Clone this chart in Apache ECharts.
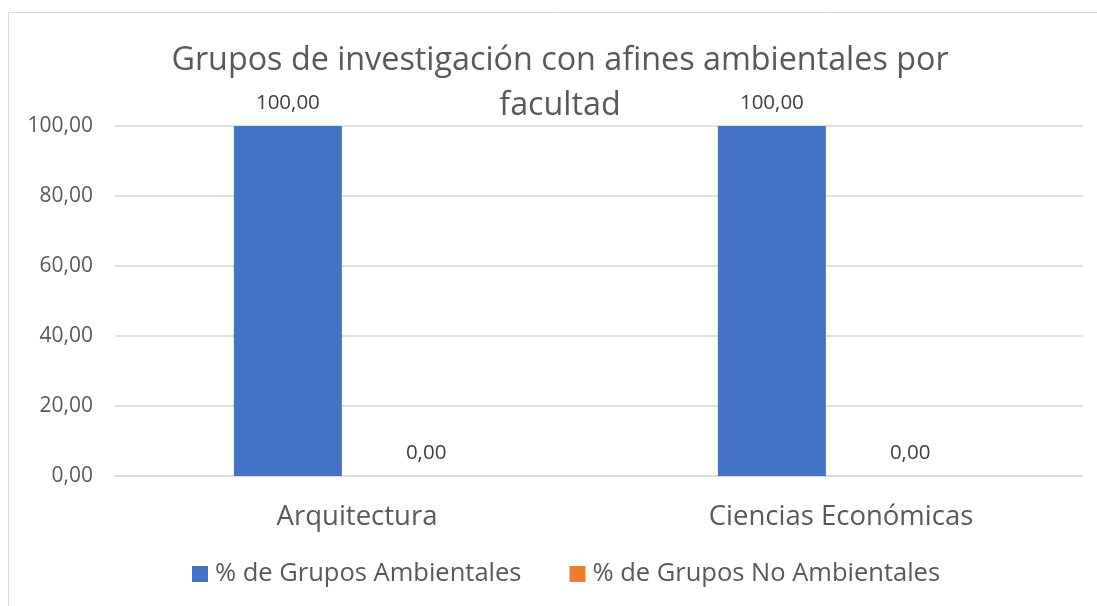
<!DOCTYPE html>
<html><head><meta charset="utf-8">
<script src="https://cdn.jsdelivr.net/npm/echarts@6/dist/echarts.min.js"></script>
<style>html,body{margin:0;padding:0;background:#fff}#c{width:1097px;height:606px}</style>
</head><body><div id="c"></div>
<script>
const titleText = 'Grupos de investigación con afines ambientales por\nfacultad';
const categories = ['Arquitectura', 'Ciencias Económicas'];
const seriesNames = ['% de Grupos Ambientales', '% de Grupos No Ambientales'];
const ambientales = [100, 100];
const noAmbientales = [0, 0];
const yTicks = [0, 20, 40, 60, 80, 100];
const colors = ['#4472C4', '#ED7D31'];
const FONT = 'Open Sans';

const chart = echarts.init(document.getElementById('c'));
const fmt = v => Number(v).toFixed(2).replace('.', ',');
const labelOpt = {show: true, position: 'top', distance: 12, color: '#404040', fontFamily: FONT, fontSize: 20.5, formatter: p => fmt(p.value)};
chart.setOption({
  animation: false,
  backgroundColor: '#fff',
  graphic: [{type: 'rect', shape: {x: 8.5, y: 12.5, width: 1200, height: 700}, style: {fill: 'none', stroke: '#D9D9D9', lineWidth: 1}, silent: true, z: -10}],
  title: {text: titleText, left: 555, top: 33, textAlign: 'center',
    textStyle: {fontFamily: FONT, fontSize: 32.3, fontWeight: 'normal', color: '#595959', lineHeight: 45}},
  legend: {top: 556, left: 187, itemWidth: 16, itemHeight: 16, itemGap: 48, icon: 'rect',
    textStyle: {fontFamily: FONT, fontSize: 25.5, color: '#595959', padding: [0, 0, 0, 2]}, data: seriesNames},
  grid: {left: 115, right: 14, top: 126, bottom: 130},
  xAxis: {type: 'category', data: categories,
    axisLine: {lineStyle: {color: '#D9D9D9', width: 1.5}}, axisTick: {show: false},
    axisLabel: {fontFamily: FONT, fontSize: 27.5, color: '#595959', margin: 27}},
  yAxis: {type: 'value', min: yTicks[0], max: yTicks[yTicks.length - 1], interval: 20,
    axisLine: {show: false}, axisTick: {show: false},
    splitLine: {lineStyle: {color: '#D9D9D9', width: 1.5}},
    axisLabel: {fontFamily: FONT, fontSize: 21, color: '#595959', margin: 22, formatter: v => fmt(v)}},
  series: [
    {name: seriesNames[0], type: 'bar', data: ambientales, barWidth: 108, barGap: '28%', itemStyle: {color: colors[0]}, label: labelOpt},
    {name: seriesNames[1], type: 'bar', data: noAmbientales, barWidth: 108, itemStyle: {color: colors[1]}, label: labelOpt}
  ]
});
</script></body></html>
